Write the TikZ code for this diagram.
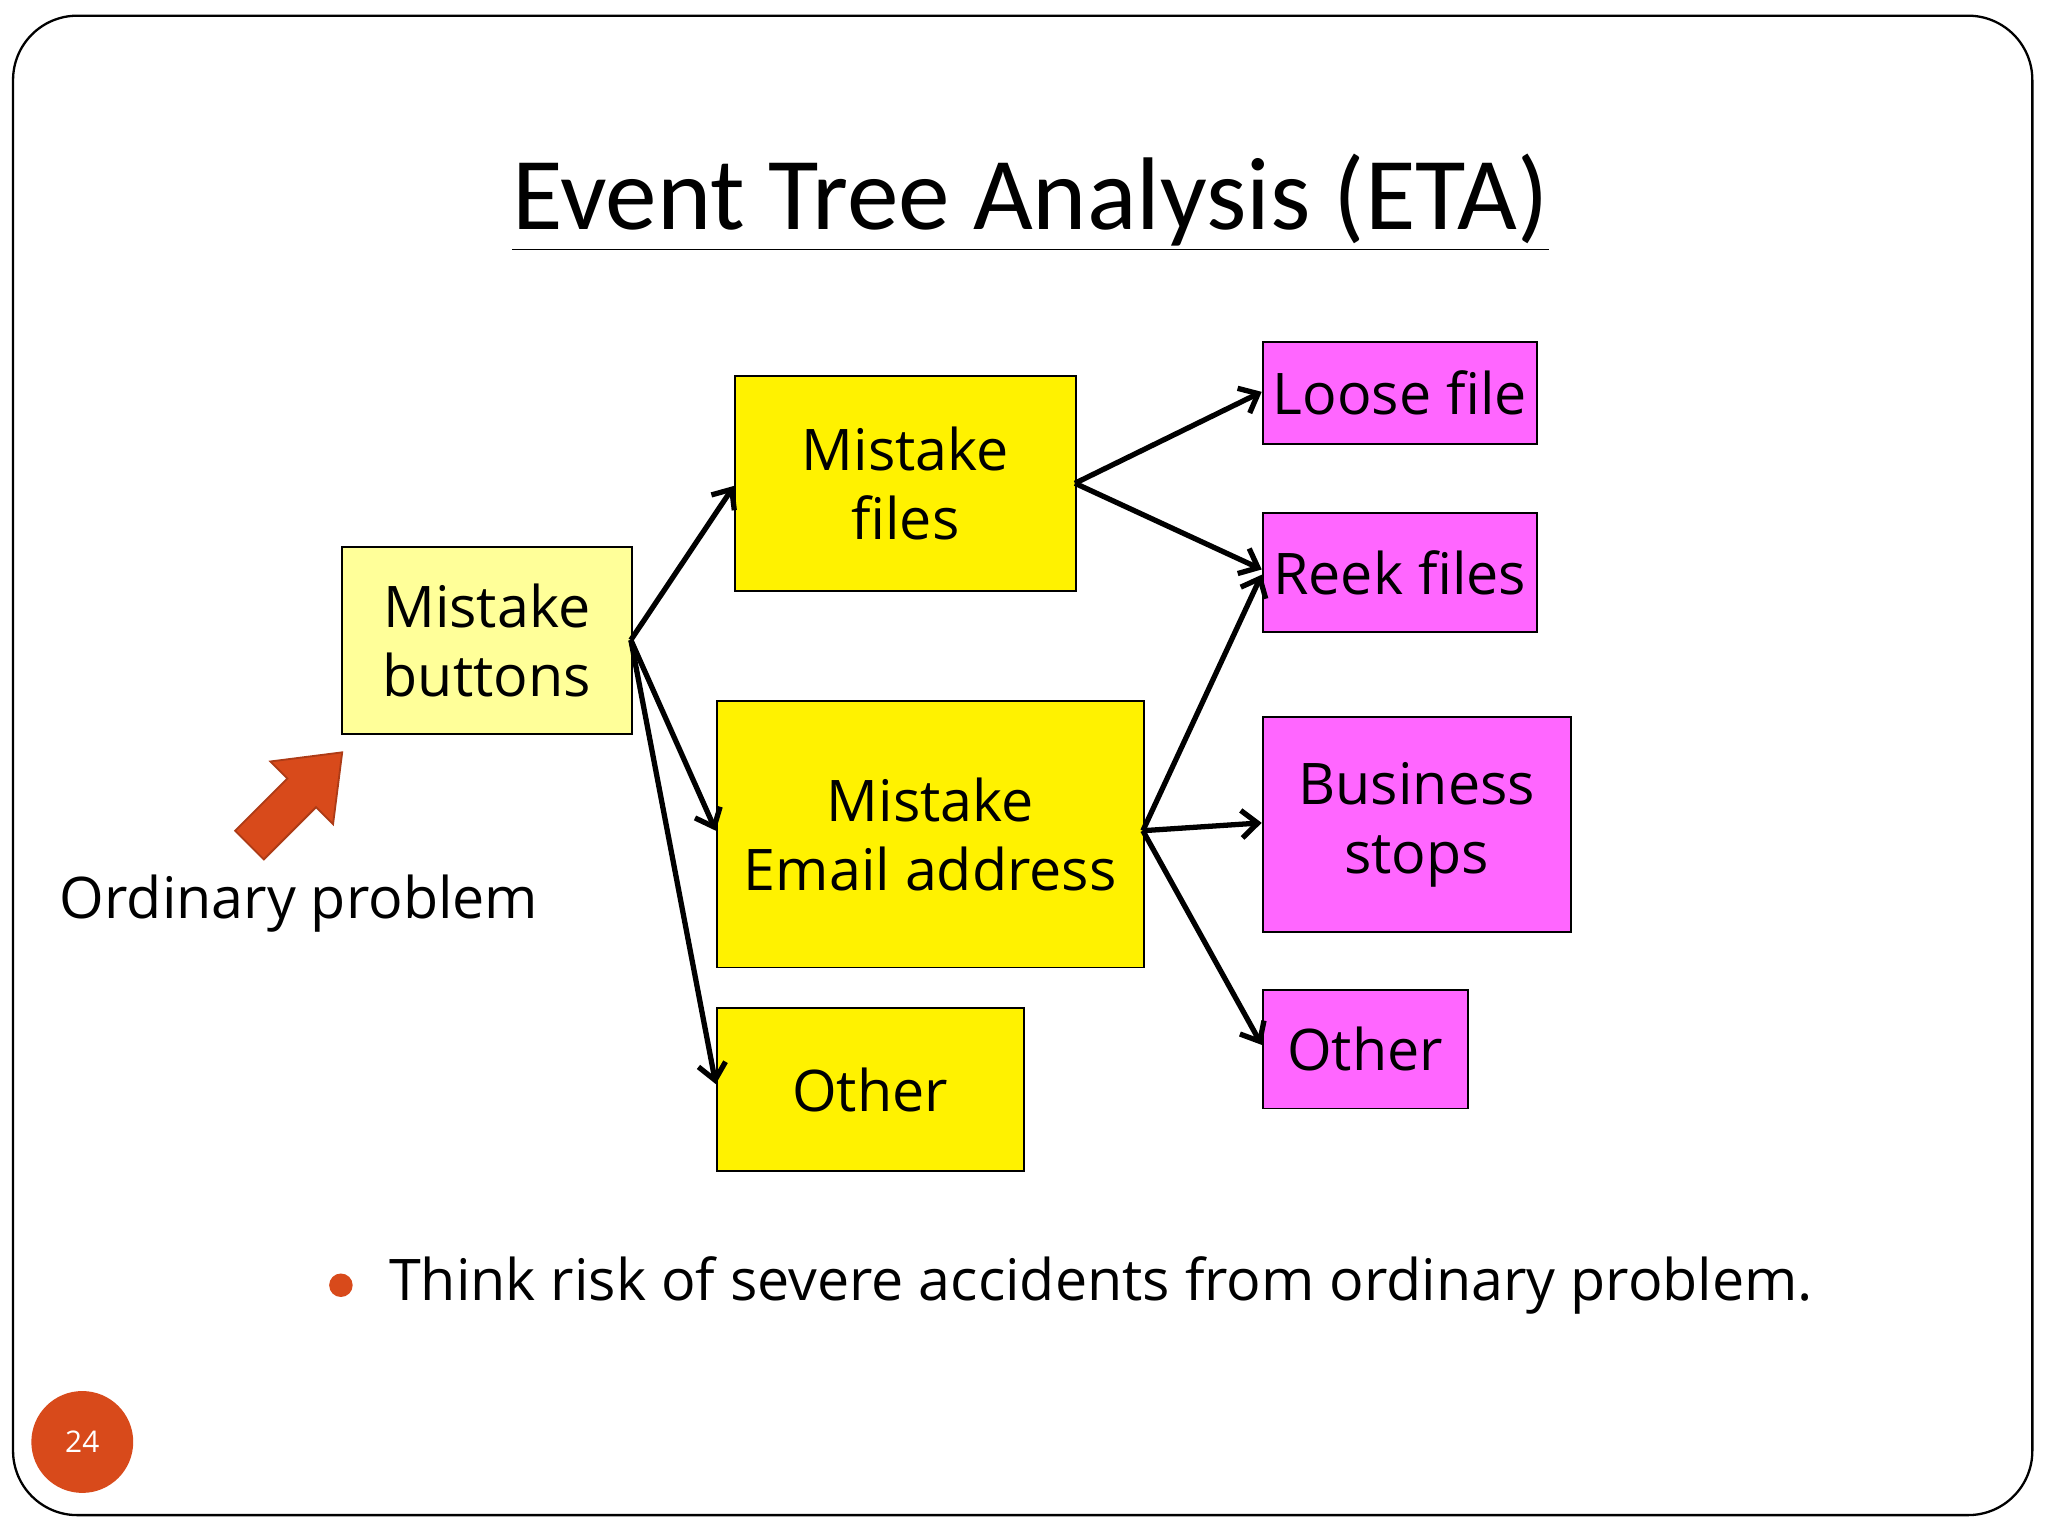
\documentclass[tikz,border=0pt]{standalone}
\usepackage{fontspec}
\setmainfont{Open Sans}
\newfontfamily\titlefont{Carlito}
\usetikzlibrary{arrows.meta,positioning}
\definecolor{paleyel}{HTML}{FFFF99}
\definecolor{magent}{HTML}{FF66FF}
\definecolor{rust}{HTML}{D84A1B}

\begin{document}
\begin{tikzpicture}[x=0.02cm,y=-0.02cm,
	->,>={Straight Barb[length=7pt,width=12pt]},line width=2.3pt]
	\tikzset{box/.style={draw=black,line width=0.8pt,fill=yellow,anchor=north west,align=center,font=\fontsize{25}{30}\selectfont,inner sep=0pt},
	         leaf/.style={box,fill=magent}}
	\useasboundingbox (0,0) rectangle (1568,1176);
	\draw[-,line width=1pt,rounded corners=28pt] (10,12) rectangle (1556,1160);

	\node[font=\titlefont\fontsize{45}{50}\selectfont] (title) at (789,155) {\underline{Event Tree Analysis (ETA)}};

	\node[box,fill=paleyel,minimum width=222*0.02cm,minimum height=143*0.02cm] (buttons) at (261,418) {Mistake\\buttons};
	\node[box,minimum width=261*0.02cm,minimum height=165*0.02cm] (files) at (562,287) {Mistake\\files};
	\node[box,minimum width=327*0.02cm,minimum height=204*0.02cm] (email) at (548,536) {Mistake\\Email address};
	\node[box,minimum width=235*0.02cm,minimum height=125*0.02cm] (other1) at (548,771) {Other};
	\node[leaf,minimum width=210*0.02cm,minimum height=78*0.02cm] (loose) at (966,261) {Loose file};
	\node[leaf,minimum width=210*0.02cm,minimum height=91*0.02cm] (reek) at (966,392) {Reek files};
	\node[leaf,minimum width=236*0.02cm,minimum height=165*0.02cm] (business) at (966,548) {Business\\stops};
	\node[leaf,minimum width=157*0.02cm,minimum height=91*0.02cm] (other2) at (966,757) {Other};

	\coordinate (b0) at (483,490);
	\coordinate (f0) at (823,370);
	\coordinate (e0) at (875,636);
	\coordinate (fin) at (562,372);
	\coordinate (ein) at (548,636);
	\coordinate (oin) at (548,830);
	\coordinate (lin) at (966,300);
	\coordinate (rin) at (966,436);
	\coordinate (rin2) at (966,440);
	\coordinate (bin) at (966,630);
	\coordinate (o2in) at (966,800);

	\draw (b0) -- (fin);
	\draw (b0) -- (ein);
	\draw (b0) -- (oin);
	\draw (f0) -- (lin);
	\draw (f0) -- (rin);
	\draw (e0) -- (rin2);
	\draw (e0) -- (bin);
	\draw (e0) -- (o2in);

	% block arrow
	\draw[-,fill=rust,draw=rust!80!black,line width=0.8pt]
	  (180,636) -- (220,596) -- (207,583) -- (262,576) -- (255,631) -- (242,618) -- (202,658) -- cycle;
	\node[font=\fontsize{25}{30}\selectfont] (ordinary) at (229,692) {Ordinary problem};

	\fill[rust] (261,984) circle (9);
	\node[anchor=west,font=\fontsize{25}{30}\selectfont,inner sep=0pt] (bullet) at (296,984) {Think risk of severe accidents from ordinary problem.};

	\fill[rust] (63,1104) circle (39);
	\node[text=white,font=\fontsize{13}{15}\selectfont] (page) at (63,1104) {24};
\end{tikzpicture}
\end{document}
